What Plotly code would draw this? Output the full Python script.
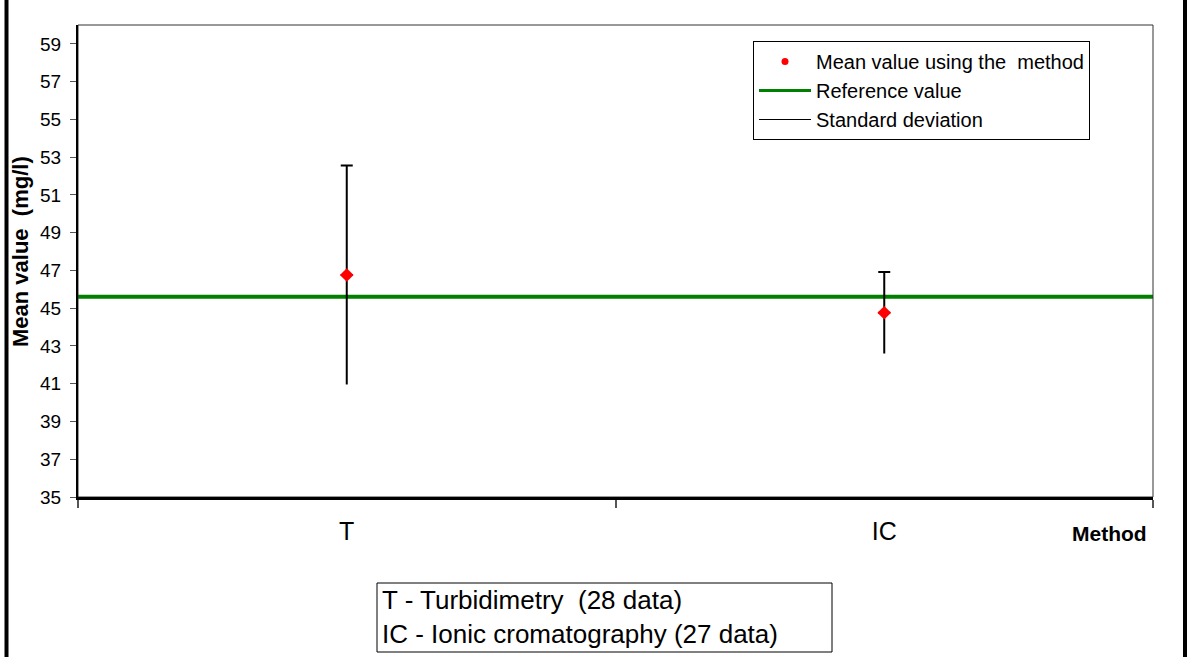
import plotly.graph_objects as go

methods = ["T", "IC"]
mean_values = [46.76, 44.76]
std_dev = [5.8, 2.16]
reference_value = 45.6
y_ticks = list(range(35, 60, 2))
legend_names = ["Mean value using the\u00a0 method", "Reference value", "Standard deviation"]
note_lines = ["T - Turbidimetry \u00a0(28 data)", "IC - Ionic cromatography (27 data)"]

FONT = "Liberation Sans, Arial, sans-serif"

W, H = 1191, 657
L, R, T, B = 78, 1153, 25, 497
pw, ph = R - L, B - T


def px(x):
    return (x - L) / pw


def py(y):
    return (B - y) / ph


fig = go.Figure()

# upper half of the standard deviation bar (with cap)
fig.add_trace(go.Scatter(
    x=methods, y=mean_values, mode="markers",
    marker=dict(size=1, color="rgba(0,0,0,0)"),
    error_y=dict(type="data", symmetric=False, array=std_dev, arrayminus=[0] * len(std_dev),
                 color="black", thickness=2, width=6),
    showlegend=False, hoverinfo="skip"))
# lower half (no cap)
fig.add_trace(go.Scatter(
    x=methods, y=mean_values, mode="markers",
    marker=dict(size=1, color="rgba(0,0,0,0)"),
    error_y=dict(type="data", symmetric=False, array=[0] * len(std_dev), arrayminus=std_dev,
                 color="black", thickness=2, width=0),
    showlegend=False, hoverinfo="skip"))
# means
fig.add_trace(go.Scatter(
    x=methods, y=mean_values, mode="markers",
    marker=dict(symbol="diamond", size=10.5, color="#ff0000", line=dict(width=0)),
    showlegend=False))

# legend-only entries
fig.add_trace(go.Scatter(x=[None], y=[None], mode="markers", name=legend_names[0],
                         marker=dict(symbol="circle", size=7, color="#ff0000")))
fig.add_trace(go.Scatter(x=[None], y=[None], mode="lines", name=legend_names[1],
                         line=dict(color="#008000", width=3)))
fig.add_trace(go.Scatter(x=[None], y=[None], mode="lines", name=legend_names[2],
                         line=dict(color="black", width=1)))

shapes = [
    # reference line
    dict(type="line", xref="paper", yref="y", x0=0, x1=1, y0=reference_value, y1=reference_value,
         line=dict(color="#008000", width=4), layer="below"),
    # plot frame (thin)
    dict(type="rect", xref="paper", yref="paper", x0=0, x1=1, y0=0, y1=1,
         line=dict(color="#333333", width=1), layer="below"),
    # outer page frame
    dict(type="line", xref="paper", yref="paper", x0=px(6.5), x1=px(6.5), y0=py(-5), y1=py(H + 5),
         line=dict(color="black", width=4)),
    dict(type="line", xref="paper", yref="paper", x0=px(1185), x1=px(1185), y0=py(-5), y1=py(H + 5),
         line=dict(color="black", width=4)),
    # note box
    dict(type="rect", xref="paper", yref="paper", x0=px(377), x1=px(832), y0=py(583), y1=py(652),
         line=dict(color="black", width=1)),
]

annotations = [
    dict(text="<b>Mean value\u00a0 (mg/l)</b>", xref="paper", yref="paper", x=px(20), y=py(252),
         textangle=-90, showarrow=False, xanchor="center", yanchor="middle",
         font=dict(family=FONT, size=22, color="black")),
    dict(text="<b>Method</b>", xref="paper", yref="paper", x=px(1149), y=py(533),
         showarrow=False, xanchor="right", yanchor="middle",
         font=dict(family=FONT, size=21, color="black")),
    dict(text="<br>".join(note_lines), xref="paper", yref="paper", x=px(380), y=py(617),
         showarrow=False, xanchor="left", yanchor="middle", align="left",
         font=dict(family=FONT, size=26, color="black")),
]

fig.update_layout(
    width=W, height=H,
    margin=dict(l=L, r=W - R, t=T, b=H - B, pad=0),
    paper_bgcolor="white", plot_bgcolor="white",
    font=dict(family=FONT, color="black"),
    shapes=shapes, annotations=annotations,
    legend=dict(x=px(753), y=py(41), xanchor="left", yanchor="top",
                bordercolor="black", borderwidth=1, bgcolor="white",
                font=dict(family=FONT, size=20, color="black"),
                tracegroupgap=0, itemwidth=52, entrywidth=360, entrywidthmode="pixels"),
    xaxis=dict(type="category", range=[-0.5, 1.5], tickson="boundaries",
               ticks="outside", ticklen=8, tickwidth=2, tickcolor="#555555",
               showline=True, linecolor="black", linewidth=3, showgrid=False, zeroline=False,
               tickfont=dict(family=FONT, size=25, color="black"), ticklabelstandoff=10),
    yaxis=dict(range=[35, 60], tickvals=y_ticks, ticks="outside", ticklen=6, tickwidth=1,
               tickcolor="#555555", showline=True, linecolor="black", linewidth=2,
               showgrid=False, zeroline=False,
               tickfont=dict(family=FONT, size=19, color="black"), ticklabelstandoff=5),
)

fig.write_html("out.html", config={"displayModeBar": False},
               post_script="document.body.style.margin='0';document.body.style.overflow='hidden';")
